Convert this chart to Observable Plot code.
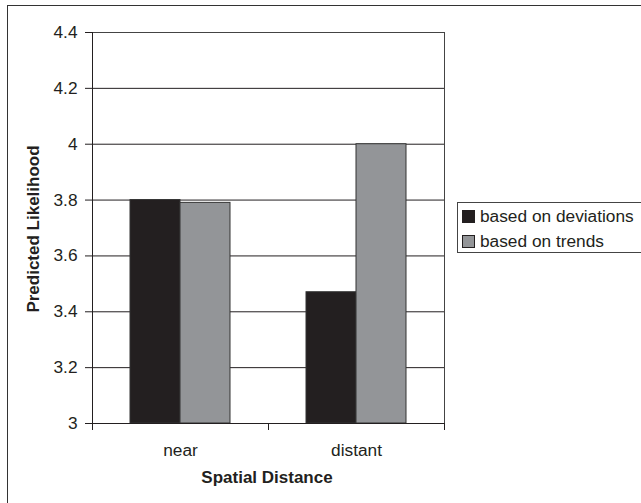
<!DOCTYPE html>
<html>
<head>
<meta charset="utf-8">
<script src="https://cdn.jsdelivr.net/npm/d3@7"></script>
<script src="https://cdn.jsdelivr.net/npm/@observablehq/plot@0.6"></script>
<style>
  html, body { margin: 0; padding: 0; background: #fff; }
  #wrap { position: relative; width: 641px; height: 503px; overflow: hidden; background: #fff;
          font-family: "Liberation Sans", Arial, Helvetica, sans-serif; color: #231f20; }
  #outer { position: absolute; left: 7px; top: 5px; width: 700px; height: 600px; border: 1px solid #333; box-sizing: border-box; }
  #chart { position: absolute; left: 0; top: 0; }
  .title { position: absolute; font-weight: bold; font-size: 17px; white-space: nowrap; }
  #ytitle { left: 34px; top: 229px; transform: translate(-50%, -50%) rotate(-90deg); }
  #xtitle { left: 267px; top: 478px; transform: translate(-50%, -50%); }
  #legend { position: absolute; left: 457px; top: 202px; width: 200px; height: 51px; border: 1px solid #444; box-sizing: border-box; }
  .row { position: absolute; left: 4px; height: 20px; display: flex; align-items: center; font-size: 17.3px; white-space: nowrap; }
  .sw { width: 11px; height: 11px; border: 1px solid #231f20; margin-right: 5px; flex: none; }
</style>
</head>
<body>
<div id="wrap">
  <div id="outer"></div>
  <div id="chart"></div>
  <div id="ytitle" class="title"></div>
  <div id="xtitle" class="title"></div>
  <div id="legend"></div>
</div>
<script>
// ---- data ----
const categories = ["near", "distant"];
const series = ["based on deviations", "based on trends"];
const deviations = [3.80, 3.47];
const trends = [3.79, 4.00];
const yTicks = [3, 3.2, 3.4, 3.6, 3.8, 4, 4.2, 4.4];
const yTickLabels = ["3", "3.2", "3.4", "3.6", "3.8", "4", "4.2", "4.4"];
const colors = ["#231f20", "#939598"];
const xTitle = "Spatial Distance";
const yTitle = "Predicted Likelihood";

// ---- table ----
const table = [];
categories.forEach((c, i) => {
  table.push({category: c, series: series[0], value: deviations[i]});
  table.push({category: c, series: series[1], value: trends[i]});
});

const W = 641, H = 503, mL = 91, mT = 32, mR = 197, mB = 80;
const plotH = H - mT - mB;
const yMin = yTicks[0], yMax = yTicks[yTicks.length - 1];

const chart = Plot.plot({
  width: W, height: H,
  marginLeft: mL, marginTop: mT, marginRight: mR, marginBottom: mB,
  style: {fontFamily: '"Liberation Sans", Arial, sans-serif', fontSize: "17.3px", color: "#231f20", background: "transparent"},
  fx: {domain: categories, padding: 0, label: null, axis: "bottom", tickSize: 0, tickPadding: 20},
  x: {domain: series, paddingInner: 0, paddingOuter: 0.73, axis: null},
  y: {domain: [yMin, yMax], ticks: yTicks, tickFormat: (d, i) => yTickLabels[yTicks.indexOf(d)], tickSize: 7, tickPadding: 8, label: null},
  color: {domain: series, range: colors},
  marks: [
    Plot.gridY(yTicks, {stroke: "#231f20", strokeOpacity: 1}),
    Plot.barY(table, {fx: "category", x: "series", y1: yMin, y2: "value", fill: "series", stroke: "#333"}),
    Plot.frame({anchor: "top", stroke: "#444"}),
    Plot.frame({anchor: "bottom", stroke: "#231f20"}),
    Plot.frame({anchor: "left", stroke: "#231f20", facetAnchor: "left"}),
    Plot.frame({anchor: "right", stroke: "#444", facetAnchor: "right"}),
    Plot.frame({anchor: "left", stroke: "#231f20", insetTop: plotH, insetBottom: -6}),
    Plot.frame({anchor: "right", stroke: "#231f20", insetTop: plotH, insetBottom: -6, facetAnchor: "right"})
  ]
});
document.getElementById("chart").appendChild(chart);

document.getElementById("xtitle").textContent = xTitle;
document.getElementById("ytitle").textContent = yTitle;

const legend = document.getElementById("legend");
series.forEach((s, i) => {
  const row = document.createElement("div");
  row.className = "row";
  row.style.top = (3 + i * 25) + "px";
  const sw = document.createElement("span");
  sw.className = "sw";
  sw.style.background = colors[i];
  const t = document.createElement("span");
  t.textContent = s;
  row.appendChild(sw);
  row.appendChild(t);
  legend.appendChild(row);
});
</script>
</body>
</html>
